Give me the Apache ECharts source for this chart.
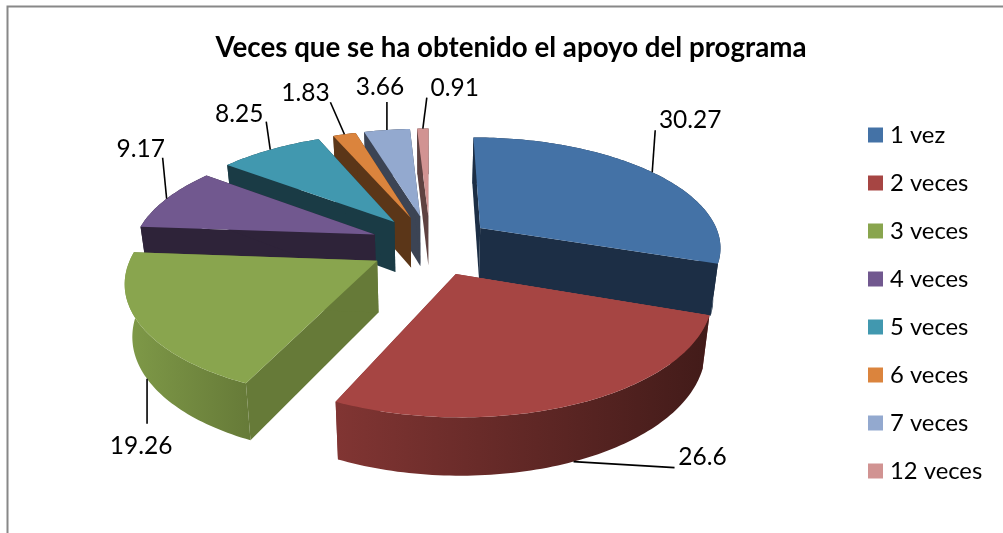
<!DOCTYPE html>
<html><head><meta charset="utf-8">
<style>html,body{margin:0;padding:0;background:#fff}#c{width:1003px;height:533px}</style>
<script src="https://cdn.jsdelivr.net/npm/echarts@6/dist/echarts.min.js"></script>
</head><body><div id="c"></div>
<script>
const categories = ['1 vez','2 veces','3 veces','4 veces','5 veces','6 veces','7 veces','12 veces'];
const values = [30.27,26.6,19.26,9.17,8.25,1.83,3.66,0.91];
const valueLabels = ['30.27','26.6','19.26','9.17','8.25','1.83','3.66','0.91'];
const topColors = ['#4472a6','#a64543','#89a54e','#71588f','#4198af','#db843d','#93a9cf','#d19392'];
const sideColors = ['#1c2e45','#7a3130','#667a38','#2e2339','#1a3b45','#5b3618','#3c4454','#5f4241'];
const rimColors = [['#1c2e45','#1c2e45'],['#813533','#421b19'],['#7f9a48','#667a38'],['#2e2339','#2e2339'],['#1a3b45','#1a3b45'],['#5b3618','#5b3618'],['#3c4454','#3c4454'],['#5f4241','#5f4241']];
const paintOrder = [7,6,5,4,3,0,2,1];
const leaders = [[3,-42,35,-10],[101,6,28,-11],[0,45,-6,22],[-4,-41,-22,-9],[-4,-28,-27,-8],[-14,-32,-25,-9],[0,-28,-7,-15],[4,-31,28,-9]];
const rimAttach = [false,true,true,false,false,false,false,false];

const P = {cx:430,cy:245,A:242,B:110,k:0.16,E:0.275,D:51,shrink:0.975,xfL:0.9,xfR:0.95};
const total = values.reduce((a,b)=>a+b,0);
const spans = []; let acc = 0;
values.forEach(v=>{const a0=acc/total*2*Math.PI; acc+=v; spans.push([a0,acc/total*2*Math.PI]);});

function proj(i,r,t,bottom){
  const m=(spans[i][0]+spans[i][1])/2, sm=Math.sin(m);
  const u=P.E*sm*(sm<0?P.xfL:P.xfR)+r*Math.sin(t), v=-P.E*Math.cos(m)-r*Math.cos(t);
  const s=1/(1-P.k*v);
  let x=P.cx+P.A*u*s, y=P.cy+P.B*v*s;
  if(bottom){x=P.cx+(x-P.cx)*P.shrink; y+=P.D*Math.pow(s,0.6);}
  return [x,y];
}
function arc(i,bottom,rev){
  const [a0,a1]=spans[i], n=Math.max(6,Math.ceil((a1-a0)/0.02)), pts=[];
  for(let j=0;j<=n;j++){pts.push(proj(i,1,a0+(a1-a0)*j/n,bottom));}
  return rev?pts.reverse():pts;
}
function renderSlice(i){
  const [a0,a1]=spans[i];
  const apexT=proj(i,0,0,false), apexB=proj(i,0,0,true);
  const topPts=[apexT].concat(arc(i,false));
  const tip0T=proj(i,1,a0,false), tip0B=proj(i,1,a0,true), tip1T=proj(i,1,a1,false), tip1B=proj(i,1,a1,true);
  const rimPts=arc(i,false).concat(arc(i,true,true));
  const xs=rimPts.map(p=>p[0]);
  const rim=new echarts.graphic.LinearGradient(Math.min(...xs),0,Math.max(...xs),0,[{offset:0,color:rimColors[i][0]},{offset:1,color:rimColors[i][1]}],true);
  const mid=(a0+a1)/2;
  const anchor=proj(i,1,mid,rimAttach[i]);
  const [ldx,ldy,tdx,tdy]=leaders[i];
  const end=[anchor[0]+ldx,anchor[1]+ldy];
  return {type:'group',children:[
    {type:'polygon',shape:{points:[apexT,tip0T,tip0B,apexB]},style:{fill:sideColors[i]}},
    {type:'polygon',shape:{points:[apexT,tip1T,tip1B,apexB]},style:{fill:sideColors[i]}},
    {type:'polygon',shape:{points:rimPts},style:{fill:rim}},
    {type:'polygon',shape:{points:topPts},style:{fill:topColors[i]}},
    {type:'polyline',shape:{points:[anchor,end]},style:{stroke:'#000',lineWidth:1.6,fill:null}},
    {type:'text',x:end[0]+tdx,y:end[1]+tdy,style:{text:valueLabels[i],fill:'#000',font:'24.5px Lato',align:'center',verticalAlign:'middle'}}
  ]};
}
const series = categories.map((name,i)=>({
  name,type:'custom',coordinateSystem:'none',z:2+paintOrder.indexOf(i),
  itemStyle:{color:topColors[i]},
  data:[values[i]],
  renderItem:()=>renderSlice(i)
}));
const chart=echarts.init(document.getElementById('c'),null,{renderer:'canvas'});
chart.setOption({
  animation:false,backgroundColor:'#fff',
  title:{text:'Veces que se ha obtenido el apoyo del programa',left:506,top:29,textAlign:'center',textStyle:{fontFamily:'Lato',fontWeight:'bold',fontSize:27.7,color:'#000'}},
  legend:{orient:'vertical',left:868,top:123,padding:0,icon:'rect',itemWidth:15,itemHeight:15,itemGap:24,selectedMode:false,textStyle:{fontFamily:'Lato',fontSize:23.8,lineHeight:24,color:'#000',padding:[0,0,0,2]},data:categories},
  graphic:[
    {type:'polyline',shape:{points:[[1003,6.5],[7.5,6.5],[7.5,533]]},style:{stroke:'#888',lineWidth:2,fill:null},silent:true}
  ],
  series
});
</script></body></html>
